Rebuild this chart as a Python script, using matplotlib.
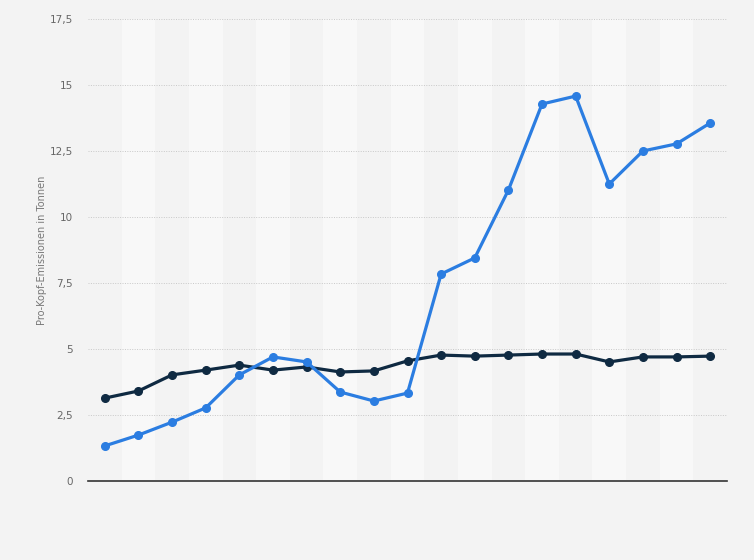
import matplotlib
matplotlib.use('Agg')
import matplotlib.pyplot as plt
from matplotlib.ticker import FuncFormatter

# Werte (19 Jahre, keine Beschriftung der x-Achse)
years = list(range(19))
series_blue = [1.33, 1.74, 2.23, 2.77, 4.02, 4.70, 4.51, 3.37, 3.03, 3.33,
               7.84, 8.45, 11.02, 14.28, 14.58, 11.25, 12.50, 12.77, 13.56]
series_dark = [3.14, 3.41, 4.02, 4.20, 4.39, 4.20, 4.32, 4.13, 4.17, 4.55,
               4.77, 4.73, 4.77, 4.81, 4.81, 4.51, 4.70, 4.70, 4.73]
y_ticks = [0, 2.5, 5, 7.5, 10, 12.5, 15, 17.5]

bg = '#f3f3f3'
fig = plt.figure(figsize=(7.54, 5.6), dpi=100, facecolor=bg)
ax = fig.add_axes([88 / 754, 79 / 560, 639 / 754, 462 / 560])
ax.set_facecolor(bg)

# abwechselnde Spalten
for i in years:
    if i % 2 == 1:
        ax.axvspan(i - 0.5, i + 0.5, color='#f8f8f8', zorder=0, lw=0)

ax.plot(years, series_dark, '-o', color='#0f2a42', lw=2.3, ms=5.5, zorder=3)
ax.plot(years, series_blue, '-o', color='#2b7de1', lw=2.3, ms=5.5, zorder=4)

ax.set_xlim(-0.5, len(years) - 0.5)
ax.set_ylim(0, 17.5)
ax.set_yticks(y_ticks)
ax.yaxis.set_major_formatter(FuncFormatter(lambda v, p: f'{v:g}'.replace('.', ',')))
ax.set_xticks([])
ax.tick_params(axis='y', length=0, pad=11, labelsize=7.5, labelcolor='#666666')
ax.grid(axis='y', color='#c8c8c8', linestyle=(0, (1, 1.5)), linewidth=0.7, zorder=1)

for side in ['top', 'right', 'left']:
    ax.spines[side].set_visible(False)
ax.spines['bottom'].set_color('#333333')
ax.spines['bottom'].set_linewidth(1.2)
ax.spines['bottom'].set_zorder(5)

ax.set_ylabel('Pro-Kopf-Emissionen in Tonnen', fontsize=7, color='#777777', labelpad=2)

plt.savefig('out.png', dpi=100, facecolor=bg)
